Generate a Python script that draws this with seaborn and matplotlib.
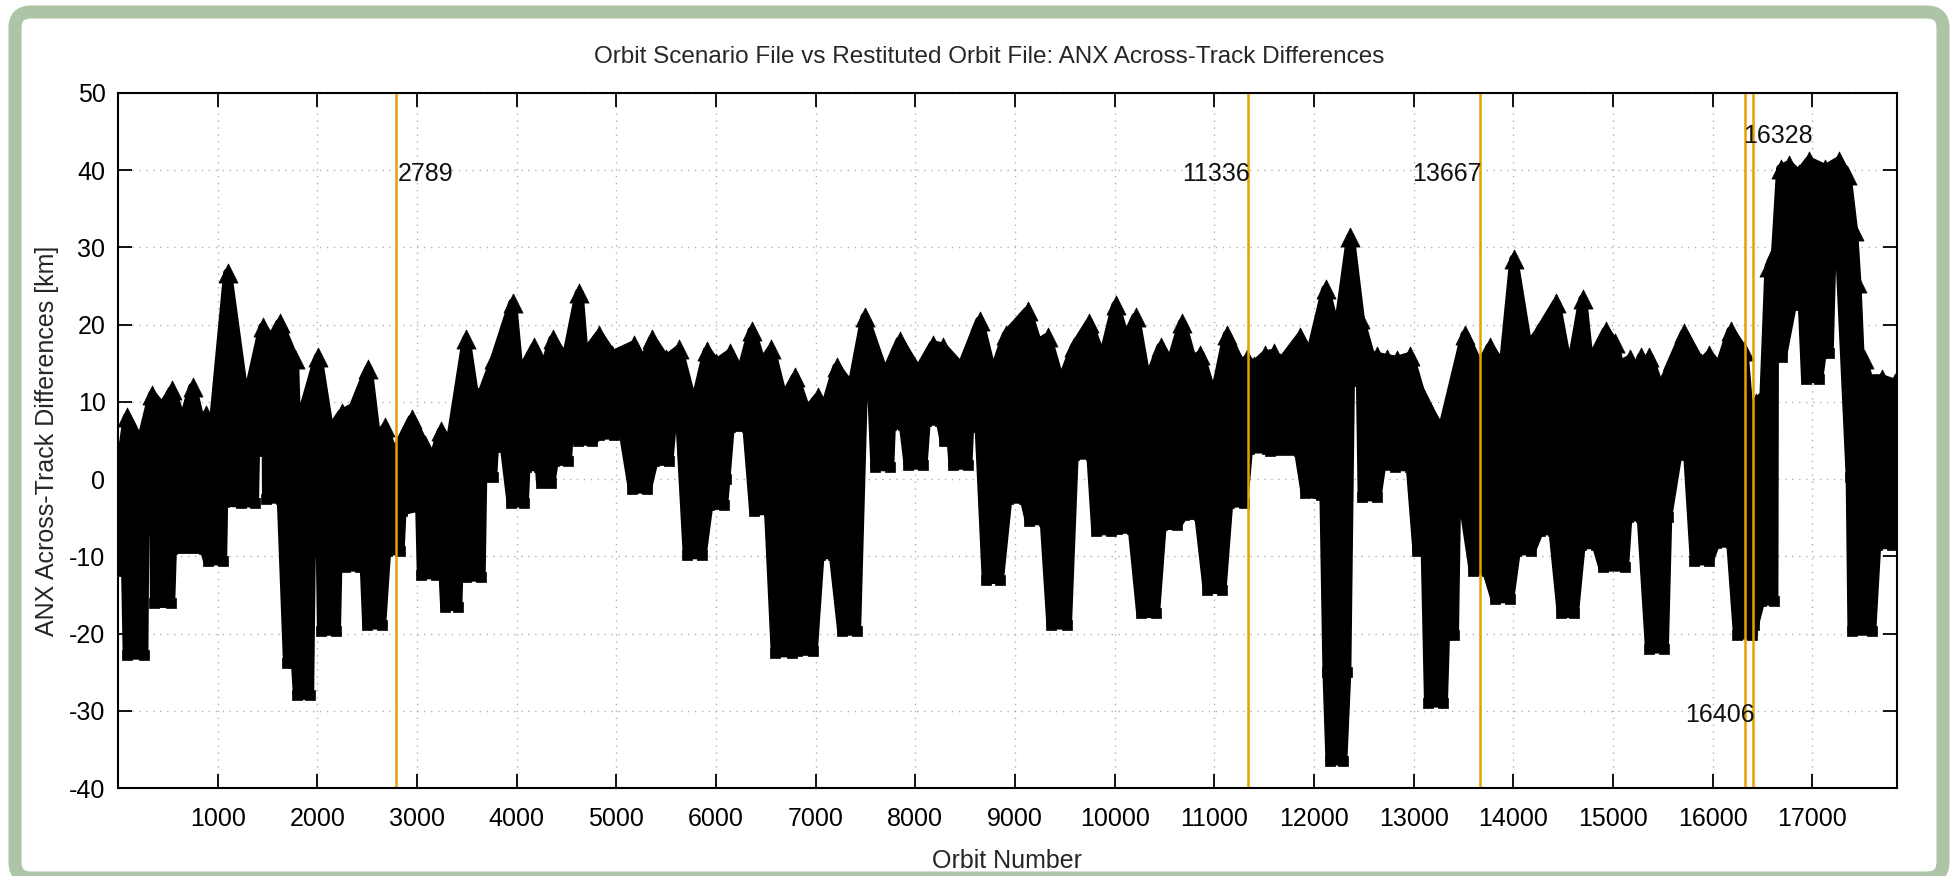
"""
ANX across-track differences between the orbit scenario file and the
restituted orbit file, redrawn as a gnuplot-style band chart.
"""
import matplotlib
matplotlib.use("Agg")
import matplotlib.pyplot as plt
import matplotlib.patches as mpatches
import numpy as np
import pandas as pd
import seaborn as sns

# ---------------------------------------------------------------------------
# Data (orbit number, km)
# ---------------------------------------------------------------------------
UPPER_ORBIT = [
    5, 92, 227, 344, 445, 540, 647, 748, 832, 882, 949, 1100, 1251, 1319,
    1453, 1537, 1621, 1772, 1806, 1880, 2008, 2125, 2243, 2360, 2512, 2596,
    2680, 2764, 2948, 3077, 3160, 3243, 3330, 3494, 3577, 3660, 3777, 3960,
    4027, 4177, 4270, 4361, 4494, 4627, 4677, 4827, 4961, 5178, 5270, 5361,
    5494, 5628, 5778, 5911, 6000, 6143, 6243, 6360, 6460, 6554, 6677, 6794,
    6910, 7021, 7094, 7211, 7361, 7494, 7694, 7844, 8028, 8178, 8278, 8461,
    8645, 8778, 8912, 9127, 9227, 9327, 9460, 9594, 9744, 9877, 10010, 10110,
    10211, 10327, 10461, 10561, 10678, 10778, 10861, 10995, 11128, 11261,
    11328, 11394, 11511, 11595, 11661, 11861, 11961, 12117, 12233, 12366,
    12466, 12566, 12633, 12733, 12833, 12966, 13066, 13165, 13282, 13515,
    13665, 13765, 13898, 14005, 14148, 14248, 14431, 14564, 14697, 14764,
    14930, 15017, 15067, 15167, 15233, 15283, 15330, 15366, 15466, 15500,
    15550, 15716, 15883, 15966, 16066, 16182, 16315, 16365, 16432, 16515,
    16565, 16632, 16682, 16765, 16865, 16965, 17132, 17265, 17349, 17415,
    17448, 17482, 17514, 17564, 17697, 17830, 17860,
]
UPPER_KM = [
    0.0, 8.0, 4.7, 10.9, 9.3, 11.5, 7.3, 11.9, 7.3, 8.3, 6.2, 26.7, 12.4, 11.9,
    19.7, 18.1, 20.2, 15.5, 0.0, 10.0, 15.8, 6.2, 8.5, 9.3, 14.2, 5.2,
    6.7, 3.1, 7.8, 4.4, 2.5, 6.2, 4.5, 18.1, 10.9, 11.4, 15.5, 22.8,
    13.5, 17.1, 14.0, 18.1, 15.5, 24.1, 16.1, 18.7, 16.1, 17.4, 15.0, 18.1,
    15.5, 16.8, 9.3, 16.6, 15.0, 16.3, 13.5, 19.2, 15.0, 16.8, 10.4, 13.2,
    8.8, 10.6, 9.3, 14.5, 11.9, 21.0, 13.5, 17.9, 14.0, 17.4, 17.1, 14.5,
    20.5, 13.5, 18.7, 21.8, 17.6, 18.4, 12.4, 17.1, 20.2, 15.5, 22.5, 18.1,
    21.0, 12.4, 17.1, 15.0, 20.2, 15.5, 16.1, 10.4, 18.7, 15.0,
    15.5, 14.7, 16.1, 16.3, 15.0, 18.4, 16.1, 24.6, 18.7, 31.3,
    20.7, 16.1, 15.9, 15.6, 15.4, 15.9, 11.4, 8.8, 6.2, 18.7,
    14.5, 17.1, 14.5, 28.5, 17.1, 18.9, 22.8, 13.5, 23.3, 15.0,
    19.2, 17.6, 14.8, 15.5, 14.0, 15.8, 14.5, 15.8, 12.0, 9.0,
    14.0, 18.9, 15.0, 16.1, 14.5, 19.2, 16.6, 8.8, 9.8, 10.9,
    27.5, 29.5, 40.2, 40.7, 39.5, 41.2, 40.2, 41.2, 39.4, 32.1,
    25.4, 15.3, 15.5, 13.0, 13.0, 12.4, 11.4,
]

LOWER_ORBIT = [
    5, 76, 92, 260, 270, 361, 365, 529, 546, 865, 899, 1050, 1060, 1230,
    1370, 1380, 1487, 1490, 1638, 1700, 1780, 1800, 1923, 1940, 2030, 2041,
    2192, 2210, 2276, 2428, 2450, 2495, 2646, 2696, 2831, 2850, 3027, 3043,
    3193, 3230, 3277, 3410, 3440, 3494, 3644, 3660, 3760, 3777, 3877, 3944,
    4077, 4094, 4227, 4240, 4344, 4377, 4511, 4540, 4590, 4611, 4761, 4827,
    4978, 5050, 5161, 5311, 5378, 5528, 5560, 5640, 5711, 5862, 5928, 6077,
    6100, 6143, 6310, 6377, 6527, 6594, 6760, 6785, 6810, 6977, 7044, 7177,
    7261, 7411, 7480, 7560, 7594, 7744, 7760, 7880, 7928, 8078, 8110, 8250,
    8290, 8360, 8378, 8528, 8545, 8640, 8711, 8845, 8928, 9093, 9143, 9293,
    9360, 9527, 9594, 9761, 9810, 9960, 10027, 10177, 10261, 10411, 10477,
    10627, 10694, 10844, 10928, 11078, 11145, 11294, 11344, 11528, 11561,
    11845, 11911, 12067, 12100, 12130, 12160, 12290, 12330, 12366, 12466,
    12483, 12633, 12680, 12790, 12816, 12966, 13033, 13116, 13149, 13299,
    13320, 13410, 13430, 13500, 13598, 13732, 13815, 13965, 14031, 14181,
    14264, 14398, 14481, 14614, 14681, 14831, 14897, 15117, 15150, 15283,
    15366, 15516, 15550, 15650, 15750, 15816, 15966, 16032, 16182, 16249,
    16399, 16420, 16482, 16615, 16620, 16700, 16800, 16900, 16932, 17065,
    17100, 17170, 17200, 17270, 17380, 17398, 17597, 17647, 17797, 17860,
]
LOWER_KM = [
    -11.9, -11.9, -22.8, -22.8, -6.5, -6.5, -16.1, -16.1, -9.1, -9.1, -10.6,
    -10.6, -3.0, -3.1, -3.1, 3.6, 3.6, -2.6, -2.6, -23.8, -23.8, -28.0, -28.0,
    -9.3, -9.3, -19.7, -19.7, -9.0, -11.4, -11.4, -5.0, -18.9, -18.9, -9.3,
    -9.3, -4.1, -3.6, -12.4, -12.4, -4.0, -16.5, -16.5, -3.0, -12.7, -12.7,
    0.3, 0.3, 4.1, 4.1, -3.1, -3.1, 1.6, 1.6, -0.5, -0.5, 2.3, 2.3, 9.3,
    9.3, 4.9, 4.9, 5.7, 5.7, 7.5, -1.3, -1.3, 2.3, 2.3, 7.0, 7.0, -9.8,
    -9.8, -3.4, -3.4, 0.0, 6.7, 6.7, -4.1, -4.1, -22.5, -22.5, -12.0, -22.3,
    -22.3, -9.8, -9.8, -19.7, -19.7, 12.2, 12.2, 1.6, 1.6, 7.0, 7.0, 1.8,
    1.8, 7.5, 7.5, 4.9, 4.9, 1.8, 1.8, 6.7, 6.7, -13.0, -13.0, -2.6, -2.6,
    -5.4, -5.4, -18.9, -18.9, 3.1, 3.1, -6.7, -6.7, -6.5, -6.5, -17.4,
    -17.4, -6.0, -6.0, -4.7, -4.7, -14.3, -14.3, -3.1, -3.1, 3.9, 3.9, 3.6,
    3.6, -1.8, -2.1, -2.1, -25.0, -36.5, -36.5, -25.0, 12.7, 12.7, -2.3,
    -2.3, 1.8, 1.8, 1.6, 1.6, -9.3, -9.3, -29.0, -29.0, -20.2, -20.2, -3.4,
    -3.4, -11.9, -11.9, -15.5, -15.5, -9.3, -9.3, -6.7, -6.7, -17.4, -17.4,
    -8.5, -8.5, -11.4, -11.4, -4.9, -4.9, -22.0, -22.0, -4.9, 3.1, 3.1,
    -10.6, -10.6, -8.3, -8.3, -20.2, -20.2, -18.9, -15.8, -15.8, 15.8, 15.8,
    22.5, 22.5, 13.0, 13.0, 16.3, 16.3, 30.8, 30.8, 0.3, -19.7, -19.7, -8.5,
    -8.5, 8.0,
]

# Orbits flagged with vertical markers
EVENT_ORBITS = [2789, 11336, 13667, 16328, 16406]
EVENT_LABELS = ["2789", "11336", "13667", "16328", "16406"]
EVENT_LABEL_Y = [39.5, 39.5, 39.5, 44.4, -30.6]
EVENT_LABEL_HA = ["left", "right", "right", "left", "right"]

X_TICKS = list(range(1000, 18000, 1000))
Y_TICKS = list(range(-40, 51, 10))

TITLE = "Orbit Scenario File vs Restituted Orbit File: ANX Across-Track Differences"
XLABEL = "Orbit Number"
YLABEL = "ANX Across-Track Differences [km]"

FRAME_GREEN = "#adc4a6"
EVENT_ORANGE = "#e8a000"

W_PX, H_PX = 1950, 876


def main():
    sns.set_style("ticks")
    plt.rcParams["font.family"] = ["Liberation Sans", "DejaVu Sans"]
    plt.rcParams["axes.unicode_minus"] = False

    fig = plt.figure(figsize=(W_PX / 100, H_PX / 100), dpi=100)
    fig.patch.set_facecolor("white")

    # rounded green frame around the whole picture (pixel coordinates)
    frame = mpatches.FancyBboxPatch(
        (15, -2), 1928, 866,
        boxstyle="round,pad=0,rounding_size=16",
        linewidth=9.4, edgecolor=FRAME_GREEN, facecolor="white",
        transform=None, zorder=-10,
    )
    fig.add_artist(frame)

    ax = fig.add_axes([118 / W_PX, 1 - 788 / H_PX, (1897 - 118) / W_PX, (788 - 93) / H_PX])
    ax.set_facecolor("white")

    upper = pd.DataFrame({"orbit": UPPER_ORBIT, "km": UPPER_KM})
    lower = pd.DataFrame({"orbit": LOWER_ORBIT, "km": LOWER_KM})

    # filled band between the envelopes; a wide edge stands in for the
    # thickness of the overlapping point markers
    band_x = np.concatenate([upper["orbit"].values, lower["orbit"].values[::-1]])
    band_y = np.concatenate([upper["km"].values, lower["km"].values[::-1]])
    ax.fill(band_x, band_y, facecolor="black", edgecolor="black", linewidth=6.5,
            joinstyle="round", zorder=3)

    # triangle point markers along the envelopes (gnuplot point style)
    sns.scatterplot(data=upper, x="orbit", y="km", marker="^", s=190, color="black",
                    edgecolor="black", linewidth=0.5, ax=ax, zorder=4, legend=False)
    sns.scatterplot(data=lower, x="orbit", y="km", marker="s", s=55, color="black",
                    edgecolor="black", linewidth=0.5, ax=ax, zorder=4, legend=False)

    # event markers
    for orb, lab, ly, ha in zip(EVENT_ORBITS, EVENT_LABELS, EVENT_LABEL_Y, EVENT_LABEL_HA):
        ax.axvline(orb, color=EVENT_ORANGE, linewidth=1.8, zorder=5)
        tx = orb + 15 if ha == "left" else orb + 20
        if lab == "16328":
            tx = orb - 25
        ax.text(tx, ly, lab, ha=ha, va="center", fontsize=18, color="#111111", zorder=6)

    ax.set_xlim(0, 17850)
    ax.set_ylim(-40, 50)
    ax.set_xticks(X_TICKS)
    ax.set_yticks(Y_TICKS)
    ax.grid(True, color="#b0b0b0", linestyle=(0, (1, 4)), linewidth=1.0, zorder=0)
    ax.set_axisbelow(True)

    for side in ["top", "right", "bottom", "left"]:
        ax.spines[side].set_visible(True)
        ax.spines[side].set_linewidth(1.5)
        ax.spines[side].set_color("black")
        ax.spines[side].set_zorder(7)

    ax.tick_params(direction="in", length=10, width=1.3, top=True, right=True,
                   labelsize=18, colors="black")
    ax.tick_params(axis="x", pad=14)
    ax.tick_params(axis="y", pad=9)

    ax.set_xlabel(XLABEL, fontsize=18)
    ax.set_ylabel(YLABEL, fontsize=18)
    ax.xaxis.set_label_coords(0.5, -0.088)
    ax.yaxis.set_label_coords(-0.033, 0.5)
    fig.text(0.5075, 1 - 57 / H_PX, TITLE, ha="center", va="center", fontsize=17.5)

    fig.savefig("out.png", dpi=100)
    plt.close(fig)


if __name__ == "__main__":
    main()
